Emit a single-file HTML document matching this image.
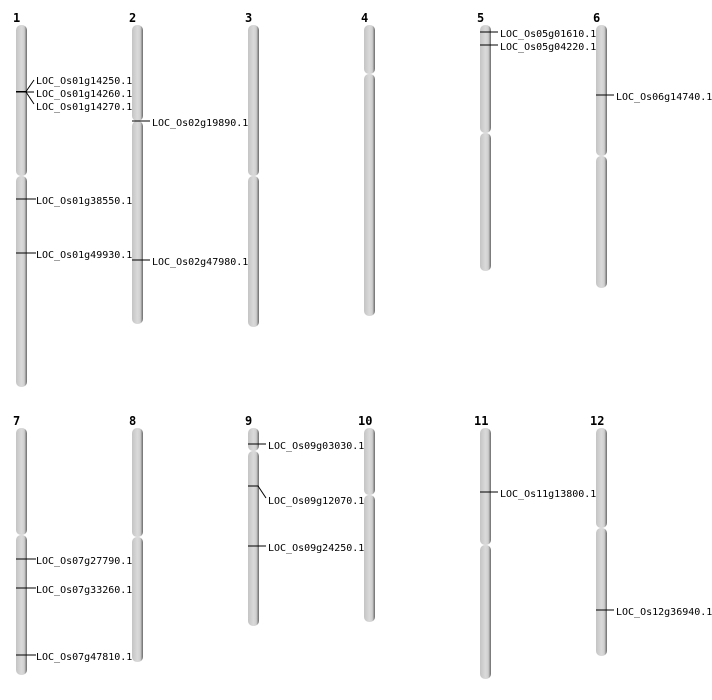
<!DOCTYPE html>
<html><head><style>body{margin:0;background:#fff}svg{display:block}</style></head><body>
<svg width="712" height="700" xmlns="http://www.w3.org/2000/svg" font-family="'DejaVu Sans Mono','Liberation Mono',monospace" font-size="10">
<defs><linearGradient id="g" x1="0" x2="1" y1="0" y2="0"><stop offset="0" stop-color="#c4c4c4"/><stop offset="0.5" stop-color="#dadada"/><stop offset="0.75" stop-color="#cfcfcf"/><stop offset="1" stop-color="#6a6a6a"/></linearGradient></defs>
<g fill="url(#g)">
<rect x="16" y="25" width="11" height="151" rx="5"/><rect x="16" y="176" width="11" height="211" rx="5"/>
<rect x="132" y="25" width="11" height="96" rx="5"/><rect x="132" y="121" width="11" height="203" rx="5"/>
<rect x="248" y="25" width="11" height="151" rx="5"/><rect x="248" y="176" width="11" height="151" rx="5"/>
<rect x="364" y="25" width="11" height="49" rx="5"/><rect x="364" y="74" width="11" height="242" rx="5"/>
<rect x="480" y="25" width="11" height="108" rx="5"/><rect x="480" y="133" width="11" height="138" rx="5"/>
<rect x="596" y="25" width="11" height="131" rx="5"/><rect x="596" y="156" width="11" height="132" rx="5"/>
<rect x="16" y="428" width="11" height="107" rx="5"/><rect x="16" y="535" width="11" height="140" rx="5"/>
<rect x="132" y="428" width="11" height="109" rx="5"/><rect x="132" y="537" width="11" height="125" rx="5"/>
<rect x="248" y="428" width="11" height="23" rx="5"/><rect x="248" y="451" width="11" height="175" rx="5"/>
<rect x="364" y="428" width="11" height="67" rx="5"/><rect x="364" y="495" width="11" height="127" rx="5"/>
<rect x="480" y="428" width="11" height="117" rx="5"/><rect x="480" y="545" width="11" height="134" rx="5"/>
<rect x="596" y="428" width="11" height="100" rx="5"/><rect x="596" y="528" width="11" height="128" rx="5"/>
</g>
<g font-weight="bold" font-size="12" fill="#000">
<text x="13" y="22">1</text><text x="129" y="22">2</text><text x="245" y="22">3</text><text x="361" y="22">4</text><text x="477" y="22">5</text><text x="593" y="22">6</text>
<text x="13" y="425">7</text><text x="129" y="425">8</text><text x="245" y="425">9</text><text x="358" y="425">10</text><text x="474" y="425">11</text><text x="590" y="425">12</text>
</g>
<g stroke="#000" stroke-width="1" fill="none">
<path d="M16 92H26M16 91.5H26L34 80M26 92H34M26 92L34 104"/>
<path d="M16 199H36M16 253H36"/>
<path d="M132 121H150M132 260H150"/>
<path d="M480 32H498M480 45H498M596 95H614"/>
<path d="M16 559H36M16 588H36M16 655H36"/>
<path d="M248 444H266M248 486H258L266 498M248 546H266"/>
<path d="M480 492H498M596 610H614"/>
</g>
<g fill="#000">
<text x="36" y="84">LOC_Os01g14250.1</text><text x="36" y="97">LOC_Os01g14260.1</text><text x="36" y="110">LOC_Os01g14270.1</text>
<text x="36" y="204">LOC_Os01g38550.1</text><text x="36" y="258">LOC_Os01g49930.1</text>
<text x="152" y="126">LOC_Os02g19890.1</text><text x="152" y="265">LOC_Os02g47980.1</text>
<text x="500" y="37">LOC_Os05g01610.1</text><text x="500" y="50">LOC_Os05g04220.1</text>
<text x="616" y="100">LOC_Os06g14740.1</text>
<text x="36" y="564">LOC_Os07g27790.1</text><text x="36" y="593">LOC_Os07g33260.1</text><text x="36" y="660">LOC_Os07g47810.1</text>
<text x="268" y="449">LOC_Os09g03030.1</text><text x="268" y="504">LOC_Os09g12070.1</text><text x="268" y="551">LOC_Os09g24250.1</text>
<text x="500" y="497">LOC_Os11g13800.1</text><text x="616" y="615">LOC_Os12g36940.1</text>
</g>
</svg>
</body></html>
